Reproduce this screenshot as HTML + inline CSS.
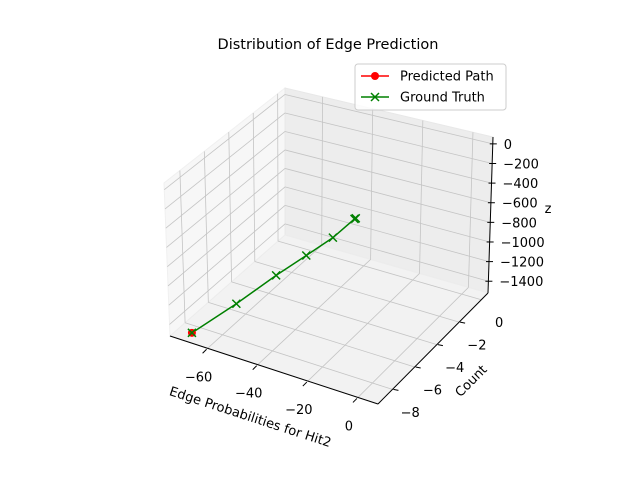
<!DOCTYPE html>
<html><head><meta charset="utf-8"><style>
body{margin:0;background:#fff;font-family:"Liberation Sans","DejaVu Sans",sans-serif}
svg text{font-family:"DejaVu Sans","Liberation Sans",sans-serif;font-size:13px;fill:#000}
</style></head><body>
<svg id="chart" width="640" height="480" xmlns="http://www.w3.org/2000/svg">
<rect width="640" height="480" fill="#fff"/>
<text x="328" y="49" text-anchor="middle" style="font-size:14.5px">Distribution of Edge Prediction</text>
<g id="panes"></g><g id="grid"></g><g id="axes"></g><g id="series"></g>
<g>
<rect x="355" y="64" width="151" height="46" rx="3" fill="#fff" stroke="#ccc" fill-opacity="0.8"/>
<g>
<line x1="361" y1="76" x2="389" y2="76" stroke="red" stroke-width="1.5"/><circle cx="375" cy="76" r="4" fill="red"/>
<text x="400" y="80.5">Predicted Path</text></g>
<g>
<line x1="361" y1="97" x2="389" y2="97" stroke="green" stroke-width="1.5"/>
<path d="M371,93 L379,101 M379,93 L371,101" stroke="green" stroke-width="1.5"/>
<text x="400" y="101.5">Ground Truth</text></g>
</g>
<text transform="translate(249,421) rotate(18)" text-anchor="middle">Edge Probabilities for Hit2</text>
<text transform="translate(474,384) rotate(-45)" text-anchor="middle">Count</text>
<text x="548" y="213" text-anchor="middle">z</text>
</svg>
<script>
const xTicks=[-60,-40,-20,0];
const yTicks=[-6,-4,-2,0,2];
const yLabelTicks=[-8,-6,-4,-2,0];
const zTicks=[-1400,-1200,-1000,-800,-600,-400,-200,0];
const predX=[-69];
const predY=[-6.7];
const predZ=[-1500];
const truthX=[-69,-56,-45,-38,-32,-28.5,-28];
const truthY=[-6.7,-5.6,-4.5,-3.4,-2.4,-1.3,-1.3];
const truthZ=[-1500,-1210,-950,-810,-690,-590,-580];

const XR=[-75,8],YR=[-7.3,2.6],ZR=[-1520,70];
const C000=[170,336],C100=[378,404],C110=[488,293],C010=[285,235];
const C001=[164,183],C101=[375,240],C111=[493,137],C011=[285,88];
function lerp(p,q,t){return [p[0]+(q[0]-p[0])*t,p[1]+(q[1]-p[1])*t];}
function P(x,y,z){
  const a=(x-XR[0])/(XR[1]-XR[0]),b=(y-YR[0])/(YR[1]-YR[0]),c=(z-ZR[0])/(ZR[1]-ZR[0]);
  const f=lerp(lerp(C000,C100,a),lerp(C010,C110,a),b);
  const t=lerp(lerp(C001,C101,a),lerp(C011,C111,a),b);
  return lerp(f,t,c);
}
const NS='http://www.w3.org/2000/svg';
function mk(tag,attrs,parent){const e=document.createElementNS(NS,tag);for(const k in attrs)e.setAttribute(k,attrs[k]);document.getElementById(parent).appendChild(e);return e;}
function poly(pts){return pts.map(p=>p.join(',')).join(' ');}
function line(p,q,stroke,w,parent){return mk('line',{x1:p[0],y1:p[1],x2:q[0],y2:q[1],stroke:stroke,'stroke-width':w},parent);}
const [x0,x1]=XR,[y0,y1]=YR,[z0,z1]=ZR;
let e;
e=mk('polygon',{points:poly([P(x0,y0,z0),P(x0,y1,z0),P(x0,y1,z1),P(x0,y0,z1)]),fill:'#f7f7f7',stroke:'#f0f0f0'},'panes');

e=mk('polygon',{points:poly([P(x0,y1,z0),P(x1,y1,z0),P(x1,y1,z1),P(x0,y1,z1)]),fill:'#ededed',stroke:'#e8e8e8'},'panes');

e=mk('polygon',{points:poly([P(x0,y0,z0),P(x1,y0,z0),P(x1,y1,z0),P(x0,y1,z0)]),fill:'#f2f2f2',stroke:'#ececec'},'panes');

const G='#c4c4c4';
xTicks.forEach(t=>{
  e=line(P(t,y0,z0),P(t,y1,z0),G,0.8,'grid');
  e=line(P(t,y1,z0),P(t,y1,z1),G,0.8,'grid');
});
yTicks.forEach(t=>{
  e=line(P(x0,t,z0),P(x1,t,z0),G,0.8,'grid');
  e=line(P(x0,t,z0),P(x0,t,z1),G,0.8,'grid');
});
zTicks.forEach(t=>{
  e=line(P(x0,y0,t),P(x0,y1,t),G,0.8,'grid');
  e=line(P(x0,y1,t),P(x1,y1,t),G,0.8,'grid');
});
e=line(P(x0,y0,z0),P(x1,y0,z0),'#000',1,'axes');
e=line(P(x1,y0,z0),P(x1,y1,z0),'#000',1,'axes');
e=line(P(x1,y1,z0),P(x1,y1,z1),'#000',1,'axes');
xTicks.forEach(t=>{
  const p=P(t,y0,z0);
  e=line([p[0]-1,p[1]+1],[p[0]-5,p[1]+5],'#000',1,'axes');
  e=mk('text',{x:p[0]-9,y:p[1]+33,'text-anchor':'middle'},'axes');e.textContent=String(t).replace('-','\u2212');
  
});
yTicks.slice(0,4).forEach(t=>{
  const p=P(x1,t,z0);
  e=line([p[0]+1,p[1]],[p[0]+6,p[1]+1],'#000',1,'axes');
});
yLabelTicks.forEach(t=>{
  const p=P(x1,t,z0);
  e=mk('text',{x:p[0]+40,y:p[1]+5,'text-anchor':'middle'},'axes');e.textContent=String(t).replace('-','\u2212');
  
});
zTicks.forEach(t=>{
  const p=P(x1,y1,t);
  e=line([p[0]-3,p[1]],[p[0]+4,p[1]],'#000',1,'axes');
  e=mk('text',{x:p[0]+11,y:p[1]+5,'text-anchor':'start'},'axes');e.textContent=String(t).replace('-','\u2212');
  
});
const tp=truthX.map((x,i)=>P(x,truthY[i],truthZ[i]));
e=mk('polyline',{points:poly(tp),fill:'none',stroke:'green','stroke-width':1.5},'series');

predX.forEach((x,i)=>{const p=P(x,predY[i],predZ[i]);
  e=mk('circle',{cx:p[0],cy:p[1],r:4,fill:'red'},'series');
  });
tp.forEach(p=>{
  e=mk('path',{d:`M${p[0]-4},${p[1]-4}L${p[0]+4},${p[1]+4}M${p[0]+4},${p[1]-4}L${p[0]-4},${p[1]+4}`,stroke:'green','stroke-width':1.5},'series');
  
});
</script>
</body></html>
